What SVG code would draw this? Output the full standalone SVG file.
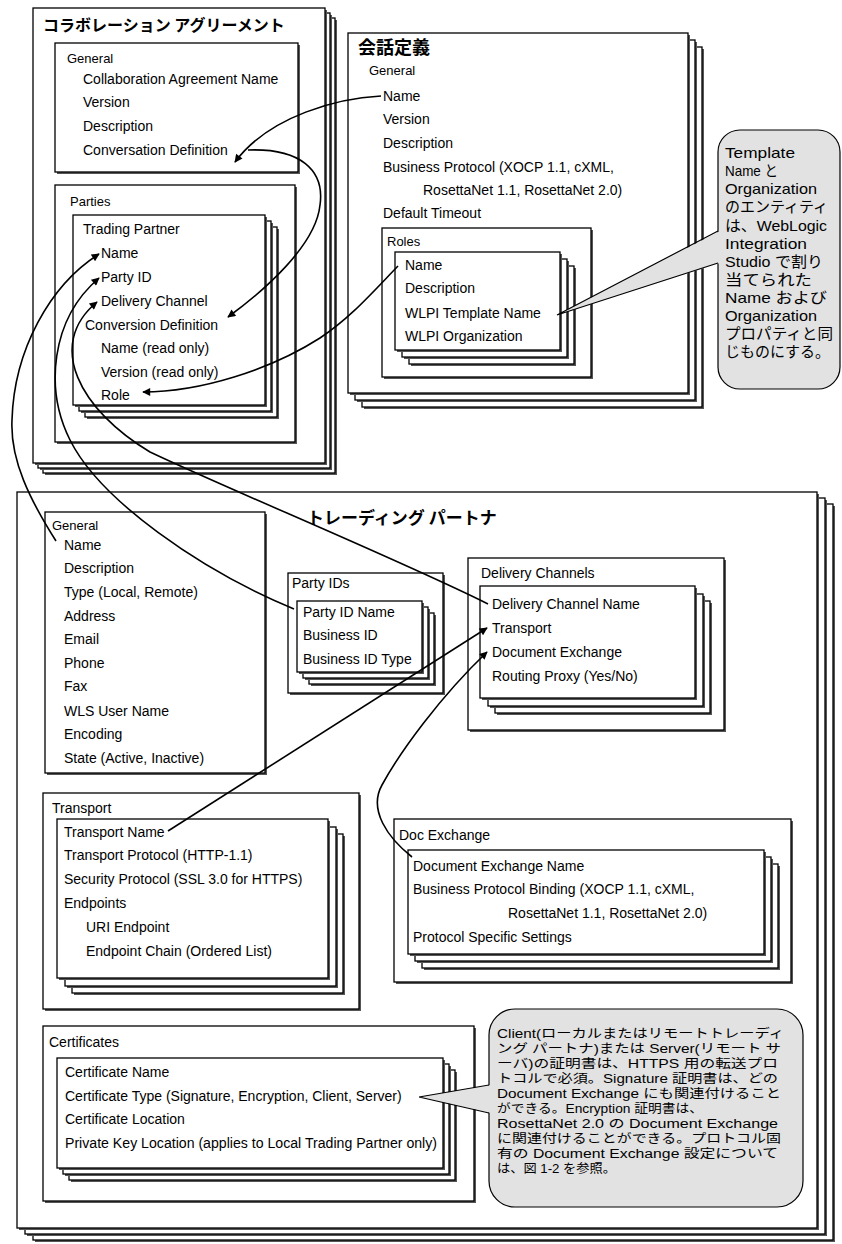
<svg xmlns="http://www.w3.org/2000/svg" width="842" height="1244" viewBox="0 0 842 1244">
<defs>
<style>
.b{fill:#fff;stroke:#000;stroke-width:1.3}
.s{fill:#555}
.t{font-family:"Liberation Sans",Arial,sans-serif;font-size:14px;fill:#000}
.g{font-size:13px}
.jt{font-family:"Noto Sans CJK JP","Liberation Sans",sans-serif;font-weight:bold;font-size:16px;fill:#000}
.jc{font-family:"Liberation Sans","Noto Sans CJK JP",sans-serif;font-weight:normal;fill:#000}
.c{fill:none;stroke:#000;stroke-width:1.6}
.bub{fill:#e2e2e2;stroke:#000;stroke-width:1.2}
.wf{fill:#e2e2e2;stroke:none}
.we{fill:none;stroke:#000;stroke-width:1.2}
</style>
<marker id="ah" viewBox="0 0 10 10" refX="9" refY="5" markerWidth="11" markerHeight="8" orient="auto" markerUnits="userSpaceOnUse">
<path d="M0,0 L10,5 L0,10 z" fill="#000"/>
</marker>
</defs>
<rect width="842" height="1244" fill="#fff"/>

<!-- Collaboration Agreement -->
<g id="collab">
<rect class="s" x="45" y="20" width="292" height="455"/><rect class="b" x="43" y="18" width="292" height="455"/>
<rect class="s" x="40" y="15" width="292" height="455"/><rect class="b" x="38" y="13" width="292" height="455"/>
<rect class="s" x="35" y="10" width="292" height="455"/><rect class="b" x="33" y="8" width="292" height="455"/>
<text class="jt" x="43" y="31">コラボレーション アグリーメント</text>
</g>
<g id="collab-general">
<rect class="s" x="57" y="45" width="243" height="129"/><rect class="b" x="55" y="43" width="243" height="129"/>
<text class="t g" x="67" y="63">General</text>
<text class="t" x="83" y="84">Collaboration Agreement Name</text>
<text class="t" x="83" y="107">Version</text>
<text class="t" x="83" y="131">Description</text>
<text class="t" x="83" y="155">Conversation Definition</text>
</g>
<g id="collab-parties">
<rect class="s" x="57" y="187" width="240" height="257"/><rect class="b" x="55" y="185" width="240" height="257"/>
<text class="t g" x="70" y="206">Parties</text>
</g>
<g id="collab-trading-partner">
<rect class="s" x="87" y="229" width="192" height="190"/><rect class="b" x="85" y="227" width="192" height="190"/>
<rect class="s" x="81" y="223" width="192" height="190"/><rect class="b" x="79" y="221" width="192" height="190"/>
<rect class="s" x="75" y="217" width="192" height="190"/><rect class="b" x="73" y="215" width="192" height="190"/>
<text class="t" x="83" y="234">Trading Partner</text>
<text class="t" x="101" y="258">Name</text>
<text class="t" x="101" y="282">Party ID</text>
<text class="t" x="101" y="306">Delivery Channel</text>
<text class="t" x="85" y="330">Conversion Definition</text>
<text class="t" x="101" y="353">Name (read only)</text>
<text class="t" x="101" y="377">Version (read only)</text>
<text class="t" x="101" y="400">Role</text>
</g>

<!-- Conversation Definition -->
<g id="convdef">
<rect class="s" x="364" y="49" width="340" height="360"/><rect class="b" x="362" y="47" width="340" height="360"/>
<rect class="s" x="357" y="42" width="340" height="360"/><rect class="b" x="355" y="40" width="340" height="360"/>
<rect class="s" x="350" y="35" width="340" height="360"/><rect class="b" x="348" y="33" width="340" height="360"/>
<text class="jt" x="358" y="54" style="font-size:18px">会話定義</text>
<text class="t g" x="369" y="75">General</text>
<text class="t" x="383" y="101">Name</text>
<text class="t" x="383" y="124">Version</text>
<text class="t" x="383" y="148">Description</text>
<text class="t" x="383" y="172">Business Protocol (XOCP 1.1, cXML,</text>
<text class="t" x="423" y="195">RosettaNet 1.1, RosettaNet 2.0)</text>
<text class="t" x="383" y="218">Default Timeout</text>
</g>
<g id="roles">
<rect class="s" x="384" y="230" width="209" height="149"/><rect class="b" x="382" y="228" width="209" height="149"/>
<text class="t g" x="387" y="246">Roles</text>
<rect class="s" x="411" y="268" width="165" height="98"/><rect class="b" x="409" y="266" width="165" height="98"/>
<rect class="s" x="404" y="261" width="165" height="98"/><rect class="b" x="402" y="259" width="165" height="98"/>
<rect class="s" x="397" y="254" width="165" height="98"/><rect class="b" x="395" y="252" width="165" height="98"/>
<text class="t" x="405" y="270">Name</text>
<text class="t" x="405" y="293">Description</text>
<text class="t" x="405" y="318">WLPI Template Name</text>
<text class="t" x="405" y="341">WLPI Organization</text>
</g>

<!-- Trading Partner -->
<g id="tp">
<rect class="s" x="35" y="506" width="800" height="736"/><rect class="b" x="33" y="504" width="800" height="736"/>
<rect class="s" x="27" y="500" width="800" height="736"/><rect class="b" x="25" y="498" width="800" height="736"/>
<rect class="s" x="19" y="494" width="800" height="736"/><rect class="b" x="17" y="492" width="800" height="736"/>
<text class="jt" x="307" y="524" style="font-size:17px">トレーディング パートナ</text>
</g>
<g id="tp-general">
<rect class="s" x="47" y="514" width="220" height="261"/><rect class="b" x="45" y="512" width="220" height="261"/>
<text class="t g" x="52" y="530">General</text>
<text class="t" x="64" y="550">Name</text>
<text class="t" x="64" y="573">Description</text>
<text class="t" x="64" y="597">Type (Local, Remote)</text>
<text class="t" x="64" y="621">Address</text>
<text class="t" x="64" y="644">Email</text>
<text class="t" x="64" y="668">Phone</text>
<text class="t" x="64" y="691">Fax</text>
<text class="t" x="64" y="716">WLS User Name</text>
<text class="t" x="64" y="739">Encoding</text>
<text class="t" x="64" y="763">State (Active, Inactive)</text>
</g>
<g id="party-ids">
<rect class="s" x="290" y="575" width="155" height="120"/><rect class="b" x="288" y="573" width="155" height="120"/>
<text class="t" x="292" y="588">Party IDs</text>
<rect class="s" x="311" y="615" width="125" height="71"/><rect class="b" x="309" y="613" width="125" height="71"/>
<rect class="s" x="305" y="609" width="125" height="71"/><rect class="b" x="303" y="607" width="125" height="71"/>
<rect class="s" x="299" y="603" width="125" height="71"/><rect class="b" x="297" y="601" width="125" height="71"/>
<text class="t" x="303" y="617">Party ID Name</text>
<text class="t" x="303" y="640">Business ID</text>
<text class="t" x="303" y="664">Business ID Type</text>
</g>
<g id="delivery-channels">
<rect class="s" x="470" y="560" width="256" height="172"/><rect class="b" x="468" y="558" width="256" height="172"/>
<text class="t" x="481" y="578">Delivery Channels</text>
<rect class="s" x="497" y="603" width="215" height="112"/><rect class="b" x="495" y="601" width="215" height="112"/>
<rect class="s" x="490" y="596" width="215" height="112"/><rect class="b" x="488" y="594" width="215" height="112"/>
<rect class="s" x="482" y="588" width="215" height="112"/><rect class="b" x="480" y="586" width="215" height="112"/>
<text class="t" x="492" y="609">Delivery Channel Name</text>
<text class="t" x="492" y="633">Transport</text>
<text class="t" x="492" y="657">Document Exchange</text>
<text class="t" x="492" y="681">Routing Proxy (Yes/No)</text>
</g>
<g id="transport">
<rect class="s" x="45" y="795" width="316" height="216"/><rect class="b" x="43" y="793" width="316" height="216"/>
<text class="t" x="52" y="813">Transport</text>
<rect class="s" x="74" y="836" width="271" height="159"/><rect class="b" x="72" y="834" width="271" height="159"/>
<rect class="s" x="67" y="829" width="271" height="159"/><rect class="b" x="65" y="827" width="271" height="159"/>
<rect class="s" x="59" y="821" width="271" height="159"/><rect class="b" x="57" y="819" width="271" height="159"/>
<text class="t" x="64" y="837">Transport Name</text>
<text class="t" x="64" y="860">Transport Protocol (HTTP-1.1)</text>
<text class="t" x="64" y="884">Security Protocol (SSL 3.0 for HTTPS)</text>
<text class="t" x="64" y="908">Endpoints</text>
<text class="t" x="86" y="932">URI Endpoint</text>
<text class="t" x="86" y="956">Endpoint Chain (Ordered List)</text>
</g>
<g id="doc-exchange">
<rect class="s" x="396" y="821" width="397" height="163"/><rect class="b" x="394" y="819" width="397" height="163"/>
<text class="t" x="399" y="840">Doc Exchange</text>
<rect class="s" x="424" y="866" width="356" height="104"/><rect class="b" x="422" y="864" width="356" height="104"/>
<rect class="s" x="417" y="859" width="356" height="104"/><rect class="b" x="415" y="857" width="356" height="104"/>
<rect class="s" x="410" y="852" width="356" height="104"/><rect class="b" x="408" y="850" width="356" height="104"/>
<text class="t" x="413" y="871">Document Exchange Name</text>
<text class="t" x="413" y="894">Business Protocol Binding (XOCP 1.1, cXML,</text>
<text class="t" x="508" y="918">RosettaNet 1.1, RosettaNet 2.0)</text>
<text class="t" x="413" y="942">Protocol Specific Settings</text>
</g>
<g id="certificates">
<rect class="s" x="45" y="1028" width="431" height="175"/><rect class="b" x="43" y="1026" width="431" height="175"/>
<text class="t" x="49" y="1047">Certificates</text>
<rect class="s" x="71" y="1072" width="386" height="110"/><rect class="b" x="69" y="1070" width="386" height="110"/>
<rect class="s" x="65" y="1066" width="386" height="110"/><rect class="b" x="63" y="1064" width="386" height="110"/>
<rect class="s" x="59" y="1060" width="386" height="110"/><rect class="b" x="57" y="1058" width="386" height="110"/>
<text class="t" x="65" y="1077">Certificate Name</text>
<text class="t" x="65" y="1101">Certificate Type (Signature, Encryption, Client, Server)</text>
<text class="t" x="65" y="1124">Certificate Location</text>
<text class="t" x="65" y="1148" textLength="372" lengthAdjust="spacingAndGlyphs">Private Key Location (applies to Local Trading Partner only)</text>
</g>

<!-- Connectors -->
<g id="connectors">
<path class="c" d="M381,96 C340,98 270,115 235,162" marker-end="url(#ah)"/>
<path class="c" d="M248,150 C300,148 325,170 320,205 C316,245 265,290 228,317" marker-end="url(#ah)"/>
<path class="c" d="M398,266 C370,295 350,318 320,338 C270,370 200,392 143,392" marker-end="url(#ah)"/>
<path class="c" d="M56,541 C30,500 10,460 12,420 C14,350 50,285 99,254" marker-end="url(#ah)"/>
<path class="c" d="M294,609 C200,570 100,500 70,440 C45,390 50,320 99,278" marker-end="url(#ah)"/>
<path class="c" d="M488,604 C400,560 230,490 150,452 C80,410 45,345 97,302" marker-end="url(#ah)"/>
<path class="c" d="M168,831 L487,628" marker-end="url(#ah)"/>
<path class="c" d="M412,857 C388,838 368,810 382,785 C400,752 440,697 487,652" marker-end="url(#ah)"/>
</g>

<!-- Callout 1 -->
<g id="callout-roles">
<rect class="bub" x="718" y="130" width="122" height="259" rx="22" ry="22"/>
<polygon class="wf" points="557,315 720,231 720,263"/>
<path class="we" d="M557,315 L718,231 M557,315 L718,263"/>
<g class="jc" style="font-size:15px">
<text x="725" y="158" textLength="70" lengthAdjust="spacingAndGlyphs">Template</text>
<text x="725" y="176" textLength="53" lengthAdjust="spacingAndGlyphs">Name と</text>
<text x="725" y="194" textLength="92" lengthAdjust="spacingAndGlyphs">Organization</text>
<text x="725" y="212" textLength="103" lengthAdjust="spacingAndGlyphs">のエンティティ</text>
<text x="725" y="231" textLength="102" lengthAdjust="spacingAndGlyphs">は、WebLogic</text>
<text x="725" y="249" textLength="82" lengthAdjust="spacingAndGlyphs">Integration</text>
<text x="725" y="267" textLength="98" lengthAdjust="spacingAndGlyphs">Studio で割り</text>
<text x="725" y="285" textLength="87" lengthAdjust="spacingAndGlyphs">当てられた</text>
<text x="725" y="303" textLength="102" lengthAdjust="spacingAndGlyphs">Name および</text>
<text x="725" y="321" textLength="92" lengthAdjust="spacingAndGlyphs">Organization</text>
<text x="725" y="339" textLength="108" lengthAdjust="spacingAndGlyphs">プロパティと同</text>
<text x="725" y="357" textLength="105" lengthAdjust="spacingAndGlyphs">じものにする。</text>
</g>
</g>

<!-- Callout 2 -->
<g id="callout-certs">
<rect class="bub" x="489" y="1009" width="314" height="198" rx="26" ry="26"/>
<polygon class="wf" points="419,1097 491,1085 491,1113"/>
<path class="we" d="M419,1097 L489,1085 M419,1097 L489,1113"/>
<g class="jc" style="font-size:12.5px">
<text x="497" y="1038" textLength="287" lengthAdjust="spacingAndGlyphs">Client(ローカルまたはリモートトレーディ</text>
<text x="497" y="1053" textLength="284" lengthAdjust="spacingAndGlyphs">ング パートナ)または Server(リモート サ</text>
<text x="497" y="1068" textLength="281" lengthAdjust="spacingAndGlyphs">ーバ)の証明書は、HTTPS 用の転送プロ</text>
<text x="497" y="1083" textLength="281" lengthAdjust="spacingAndGlyphs">トコルで必須。Signature 証明書は、どの</text>
<text x="497" y="1098" textLength="284" lengthAdjust="spacingAndGlyphs">Document Exchange にも関連付けること</text>
<text x="497" y="1113" textLength="206" lengthAdjust="spacingAndGlyphs">ができる。Encryption 証明書は、</text>
<text x="497" y="1128" textLength="281" lengthAdjust="spacingAndGlyphs">RosettaNet 2.0 の Document Exchange</text>
<text x="497" y="1143" textLength="284" lengthAdjust="spacingAndGlyphs">に関連付けることができる。プロトコル固</text>
<text x="497" y="1158" textLength="281" lengthAdjust="spacingAndGlyphs">有の Document Exchange 設定について</text>
<text x="497" y="1173" textLength="119" lengthAdjust="spacingAndGlyphs">は、図 1-2 を参照。</text>
</g>
</g>
</svg>
